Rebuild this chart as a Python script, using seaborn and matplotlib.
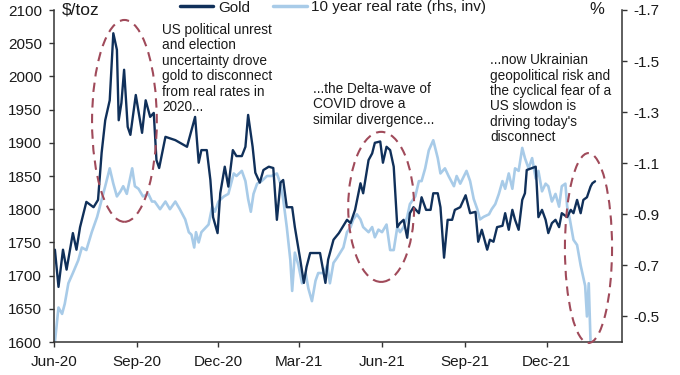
import matplotlib
matplotlib.use("Agg")
import matplotlib.pyplot as plt
import matplotlib.dates as mdates
from matplotlib.patches import Ellipse
from matplotlib.lines import Line2D
import pandas as pd
import seaborn as sns

# gold price, $/toz
gold_dates = [
    "2020-06-02", "2020-06-06", "2020-06-11", "2020-06-15", "2020-06-22", "2020-06-26",
    "2020-06-30", "2020-07-07", "2020-07-15", "2020-07-20", "2020-07-24", "2020-07-28",
    "2020-08-02", "2020-08-06", "2020-08-10", "2020-08-12", "2020-08-15", "2020-08-18",
    "2020-08-22", "2020-08-25", "2020-08-31", "2020-09-07", "2020-09-11", "2020-09-16",
    "2020-09-20", "2020-09-23", "2020-09-26", "2020-10-03", "2020-10-14", "2020-10-27",
    "2020-11-05", "2020-11-09", "2020-11-12", "2020-11-18", "2020-11-22", "2020-11-25",
    "2020-11-30", "2020-12-03", "2020-12-08", "2020-12-12", "2020-12-17", "2020-12-21",
    "2020-12-27", "2020-12-31", "2021-01-03", "2021-01-08", "2021-01-11", "2021-01-16",
    "2021-01-20", "2021-01-26", "2021-01-31", "2021-02-04", "2021-02-08", "2021-02-11",
    "2021-02-15", "2021-02-21", "2021-02-24", "2021-03-02", "2021-03-06", "2021-03-09",
    "2021-03-13", "2021-03-19", "2021-03-24", "2021-03-30", "2021-04-02", "2021-04-08",
    "2021-04-14", "2021-04-19", "2021-04-23", "2021-04-27", "2021-05-02", "2021-05-08",
    "2021-05-11", "2021-05-17", "2021-05-21", "2021-05-24", "2021-05-30", "2021-06-02",
    "2021-06-06", "2021-06-10", "2021-06-14", "2021-06-18", "2021-06-21", "2021-06-25",
    "2021-06-29", "2021-07-02", "2021-07-06", "2021-07-12", "2021-07-15", "2021-07-20",
    "2021-07-25", "2021-07-28", "2021-08-02", "2021-08-05", "2021-08-09", "2021-08-13",
    "2021-08-18", "2021-08-21", "2021-08-27", "2021-09-02", "2021-09-07", "2021-09-13",
    "2021-09-16", "2021-09-20", "2021-09-26", "2021-09-29", "2021-10-03", "2021-10-07",
    "2021-10-13", "2021-10-16", "2021-10-20", "2021-10-24", "2021-10-27", "2021-10-31",
    "2021-11-04", "2021-11-07", "2021-11-09", "2021-11-15", "2021-11-19", "2021-11-20",
    "2021-11-22", "2021-11-26", "2021-11-30", "2021-12-03", "2021-12-07", "2021-12-11",
    "2021-12-15", "2021-12-18", "2021-12-24", "2021-12-28", "2021-12-31", "2022-01-04",
    "2022-01-08", "2022-01-11", "2022-01-15", "2022-01-19", "2022-01-21", "2022-01-24",
]
gold_vals = [
    1739, 1683, 1739, 1709, 1764, 1739,
    1773, 1811, 1803, 1814, 1885, 1934,
    1964, 2065, 2040, 1934, 1960, 2010,
    1924, 1912, 1972, 1915, 1964, 1939,
    1945, 1874, 1862, 1909, 1904, 1894,
    1939, 1870, 1889, 1889, 1844, 1788,
    1764, 1824, 1864, 1834, 1889, 1880,
    1880, 1894, 1942, 1894, 1855, 1840,
    1859, 1864, 1862, 1784, 1840, 1844,
    1803, 1803, 1773, 1724, 1689, 1713,
    1734, 1734, 1734, 1689, 1724, 1754,
    1764, 1775, 1784, 1779, 1799, 1839,
    1824, 1874, 1884, 1900, 1902, 1870,
    1894, 1889, 1864, 1773, 1779, 1784,
    1757, 1794, 1803, 1794, 1818, 1799,
    1799, 1824, 1824, 1803, 1727, 1784,
    1784, 1799, 1803, 1821, 1794, 1796,
    1751, 1769, 1739, 1754, 1751, 1773,
    1775, 1794, 1769, 1799, 1784, 1769,
    1814, 1824, 1859, 1862, 1864, 1840,
    1788, 1799, 1784, 1764, 1779, 1784,
    1773, 1794, 1788, 1799, 1794, 1814,
    1794, 1814, 1818, 1834, 1839, 1842,
]

# 10 year real rate, %
rate_dates = [
    "2020-06-02", "2020-06-06", "2020-06-10", "2020-06-13", "2020-06-17", "2020-06-22",
    "2020-06-28", "2020-07-02", "2020-07-07", "2020-07-13", "2020-07-19", "2020-07-22",
    "2020-07-28", "2020-08-02", "2020-08-06", "2020-08-10", "2020-08-14", "2020-08-17",
    "2020-08-21", "2020-08-27", "2020-08-30", "2020-09-03", "2020-09-08", "2020-09-14",
    "2020-09-18", "2020-09-21", "2020-09-27", "2020-10-03", "2020-10-08", "2020-10-14",
    "2020-10-19", "2020-10-25", "2020-10-29", "2020-11-01", "2020-11-04", "2020-11-06",
    "2020-11-09", "2020-11-12", "2020-11-20", "2020-11-24", "2020-11-27", "2020-12-01",
    "2020-12-07", "2020-12-12", "2020-12-18", "2020-12-21", "2020-12-27", "2020-12-31",
    "2021-01-03", "2021-01-06", "2021-01-09", "2021-01-13", "2021-01-18", "2021-01-24",
    "2021-01-29", "2021-02-04", "2021-02-08", "2021-02-11", "2021-02-15", "2021-02-19",
    "2021-02-21", "2021-02-24", "2021-02-28", "2021-03-04", "2021-03-08", "2021-03-11",
    "2021-03-15", "2021-03-19", "2021-03-22", "2021-03-28", "2021-04-01", "2021-04-04",
    "2021-04-08", "2021-04-12", "2021-04-19", "2021-04-23", "2021-04-27", "2021-04-30",
    "2021-05-04", "2021-05-08", "2021-05-11", "2021-05-17", "2021-05-21", "2021-05-24",
    "2021-05-28", "2021-06-01", "2021-06-06", "2021-06-10", "2021-06-14", "2021-06-18",
    "2021-06-21", "2021-06-25", "2021-06-29", "2021-07-02", "2021-07-08", "2021-07-12",
    "2021-07-15", "2021-07-19", "2021-07-23", "2021-07-28", "2021-08-02", "2021-08-05",
    "2021-08-10", "2021-08-14", "2021-08-20", "2021-08-23", "2021-08-27", "2021-09-03",
    "2021-09-07", "2021-09-11", "2021-09-15", "2021-09-18", "2021-09-22", "2021-09-28",
    "2021-10-01", "2021-10-05", "2021-10-09", "2021-10-13", "2021-10-16", "2021-10-20",
    "2021-10-24", "2021-10-27", "2021-10-31", "2021-11-04", "2021-11-07", "2021-11-11",
    "2021-11-15", "2021-11-19", "2021-11-22", "2021-11-26", "2021-11-30", "2021-12-03",
    "2021-12-07", "2021-12-11", "2021-12-15", "2021-12-18", "2021-12-22", "2021-12-24",
    "2021-12-27", "2021-12-31", "2022-01-04", "2022-01-08", "2022-01-13", "2022-01-15",
    "2022-01-17", "2022-01-19",
]
rate_vals = [
    -0.40, -0.535, -0.51, -0.55, -0.63, -0.67,
    -0.72, -0.77, -0.76, -0.83, -0.89, -0.93,
    -1.01, -1.08, -1.02, -0.97, -0.99, -1.01,
    -0.98, -1.08, -1.01, -1.00, -0.97, -0.98,
    -0.95, -0.95, -0.92, -0.95, -0.92, -0.95,
    -0.92, -0.88, -0.83, -0.82, -0.77, -0.83,
    -0.79, -0.83, -0.86, -0.93, -0.91, -0.95,
    -0.97, -0.98, -1.06, -1.05, -1.07, -1.03,
    -0.96, -0.91, -0.98, -1.02, -1.03, -1.05,
    -1.05, -1.06, -1.02, -0.96, -0.85, -0.72,
    -0.60, -0.75, -0.70, -0.63, -0.67, -0.61,
    -0.56, -0.64, -0.67, -0.67, -0.70, -0.63,
    -0.71, -0.73, -0.77, -0.83, -0.85, -0.88,
    -0.90, -0.88, -0.85, -0.83, -0.85, -0.81,
    -0.84, -0.83, -0.86, -0.76, -0.76, -0.85,
    -0.83, -0.85, -0.89, -0.94, -0.97, -1.03,
    -1.03, -1.08, -1.15, -1.19, -1.12, -1.06,
    -1.08, -1.05, -1.01, -1.05, -1.02, -1.07,
    -1.03, -0.96, -0.92, -0.88, -0.89, -0.90,
    -0.92, -0.94, -0.98, -1.03, -1.00, -1.06,
    -1.00, -1.08, -1.07, -1.16, -1.12, -1.08,
    -1.12, -1.04, -1.07, -0.99, -1.02, -1.01,
    -0.95, -0.98, -0.93, -1.01, -1.02, -0.93,
    -0.88, -0.80, -0.78, -0.70, -0.62, -0.50,
    -0.63, -0.40,
]

gold_ticks = list(range(1600, 2101, 50))
rate_ticks = [-1.7, -1.5, -1.3, -1.1, -0.9, -0.7, -0.5]

NAVY = "#10305a"
LIGHT = "#a8cbe8"
RED = "#a04a5a"
TXT = "#1a1a1a"

gold = pd.DataFrame({"date": pd.to_datetime(gold_dates), "value": gold_vals})
rate = pd.DataFrame({"date": pd.to_datetime(rate_dates), "value": rate_vals})

sns.set_style("ticks")
plt.rcParams["font.family"] = ["Liberation Sans", "DejaVu Sans"]
plt.rcParams["axes.unicode_minus"] = False

fig = plt.figure(figsize=(6.8, 3.75), dpi=100)
ax = fig.add_axes([54 / 680, 1 - 342 / 375, 568 / 680, 332 / 375])
ax2 = ax.twinx()

sns.lineplot(data=rate, x="date", y="value", ax=ax2, color=LIGHT, lw=1.9)
sns.lineplot(data=gold, x="date", y="value", ax=ax, color=NAVY, lw=1.7)
ax.set_zorder(ax2.get_zorder() + 1)
ax.patch.set_visible(False)

ax.set_xlim(pd.Timestamp("2020-06-01"), pd.Timestamp("2022-02-23"))
ax.set_ylim(1600, 2100)
ax.set_yticks(gold_ticks)
ax2.set_ylim(-0.4, -1.7)
ax2.set_yticks(rate_ticks)
ax2.set_yticklabels([f"{v:.1f}" for v in rate_ticks])
ax.xaxis.set_major_locator(mdates.MonthLocator(bymonth=[3, 6, 9, 12]))
ax.xaxis.set_major_formatter(mdates.DateFormatter("%b-%y"))

for a in (ax, ax2):
    a.set_xlabel("")
    a.set_ylabel("")
    a.spines["top"].set_visible(False)
    for s in a.spines.values():
        s.set_color("#333333")
        s.set_linewidth(1.1)
    a.tick_params(labelsize=11, length=3.5, width=1, colors="#333333",
                  labelcolor=TXT, pad=5)
ax.spines["right"].set_visible(False)
ax2.spines["left"].set_visible(False)
ax2.spines["bottom"].set_visible(False)
ax.tick_params(axis="x", pad=6)

ax.text(0.014, 1.0, r"\$/toz", transform=ax.transAxes, ha="left", va="center",
        fontsize=12.5, color=TXT)
ax.text(0.955, 1.0, "%", transform=ax.transAxes, ha="center", va="center",
        fontsize=12, color=TXT)

notes = [
    (0.190, 0.961, "US political unrest\nand election\nuncertainty drove\ngold to disconnect\nfrom real rates in\n2020..."),
    (0.456, 0.783, "...the Delta-wave of\nCOVID drove a\nsimilar divergence..."),
    (0.768, 0.870, "...now Ukrainian\ngeopolitical risk and\nthe cyclical fear of a\nUS slowdon is\ndriving today's\ndisconnect"),
]
for x, y, s in notes:
    ax.text(x, y, s, transform=ax.transAxes, ha="left", va="top",
            fontsize=9.8, linespacing=1.13, color=TXT)

rings = [
    (0.124, 0.666, 0.114, 0.608),
    (0.576, 0.407, 0.116, 0.452),
    (0.941, 0.283, 0.083, 0.572),
]
for cx, cy, w, h in rings:
    ax.add_patch(Ellipse((cx, cy), w, h, transform=ax.transAxes, fill=False,
                         edgecolor=RED, lw=1.5, ls=(0, (4.5, 3)), clip_on=False,
                         zorder=5))

handles = [Line2D([], [], color=NAVY, lw=2.5), Line2D([], [], color=LIGHT, lw=2.5)]
fig.legend(handles, ["Gold", "10 year real rate (rhs, inv)"], loc="center",
           bbox_to_anchor=(333 / 680, 1 - 7.5 / 375), ncol=2, frameon=False,
           fontsize=11, handlelength=2.2, handletextpad=0.3, columnspacing=1.5,
           labelcolor=TXT, borderpad=0.1)

plt.savefig("out.png", dpi=100)
plt.close()
